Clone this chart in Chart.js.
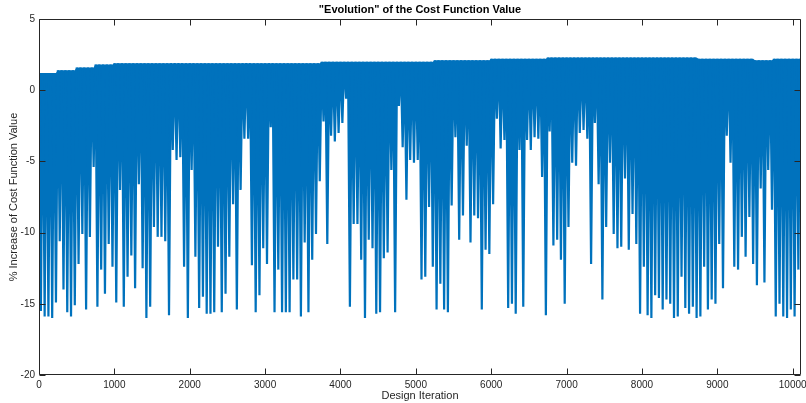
<!DOCTYPE html>
<html>
<head>
<meta charset="utf-8">
<script src="https://cdn.jsdelivr.net/npm/chart.js@4.4.1/dist/chart.umd.min.js"></script>
<style>
  html, body { margin: 0; padding: 0; background: #fff; }
</style>
</head>
<body>
<canvas id="chart" width="806" height="403"></canvas>
<script>
// one bin = 50 design iterations; lows = deepest value seen in that bin
const binSize = 50
const lows = [
  -15.5, -15.9, -15.9, -16.0, -14.9, -10.6, -14.0, -15.6, -15.9, -15.1,
  -12.2, -10.1, -15.4, -10.3, -5.4, -15.2, -12.6, -14.3, -10.8, -12.4,
  -14.9, -7.0, -15.2, -13.1, -11.6, -13.9, -6.6, -12.5, -16.0, -15.2,
  -9.6, -10.3, -10.3, -10.6,
  -15.8, -4.2, -4.9, -4.7, -12.4, -16.0, -5.6, -11.7, -15.3, -14.5,
  -15.7, -15.7, -15.6, -11.0, -15.6, -14.3, -11.7, -8.0, -15.4, -7.0,
  -3.4, -3.4, -12.3, -15.6, -14.4, -11.1, -12.2, -2.6, -15.6, -12.6,
  -15.6, -15.6, -15.6, -13.3,
  -13.3, -15.9, -10.7, -15.6, -11.9, -10.1, -6.4, -2.2, -10.8, -3.2,
  -3.6, -3.0, -2.3, -0.6, -15.2, -9.4, -9.4, -11.9, -16.0, -10.5,
  -11.1, -15.7, -15.6, -11.8, -11.4, -5.6, -15.6, -1.1, -4.0, -7.7,
  -4.9, -5.1, -4.9, -13.3,
  -13.1, -8.2, -12.4, -15.4, -13.6, -15.4, -15.6, -8.1, -3.3, -10.5,
  -8.8, -3.9, -10.7, -8.8, -9.0, -15.4, -11.2, -11.5, -8.0, -2.0,
  -4.1, -3.5, -15.3, -15.0, -15.7, -4.2, -15.2, -3.5, -4.2, -3.3,
  -3.4, -6.1, -15.8, -2.9,
  -10.9, -10.5, -11.9, -15.0, -9.6, -5.1, -5.3, -3.0, -2.8, -3.4,
  -12.2, -2.3, -6.6, -14.7, -9.6, -5.1, -10.1, -11.1, -11.0, -6.2,
  -11.2, -8.7, -10.8, -15.7, -12.4, -15.8, -16.0, -14.4, -14.6, -15.4,
  -14.7, -15.0, -16.0, -15.9,
  -13.1, -15.3, -15.7, -15.2, -16.0, -15.9, -12.4, -15.4, -14.7, -15.0,
  -10.8, -13.9, -3.2, -5.1, -12.4, -12.6, -10.3, -11.7, -8.9, -12.2,
  -13.7, -6.9, -13.5, -5.6, -8.4, -15.9, -15.0, -15.9, -16.0, -15.4,
  -15.9, -12.6, -5.0
]
// upper edge of the trace, one value per 250 iterations
const tops = [
  1.2, 1.4, 1.6, 1.8, 1.9, 1.9, 1.9, 1.9, 1.9, 1.9,
  1.9, 1.9, 1.9, 1.9, 1.9, 2.0, 2.0, 2.0, 2.0, 2.0,
  2.0, 2.1, 2.1, 2.1, 2.2, 2.2, 2.2, 2.3, 2.3, 2.3,
  2.3, 2.3, 2.3, 2.3, 2.3, 2.2, 2.2, 2.2, 2.1, 2.2,
  2.2
]
const xTicks = [0, 1000, 2000, 3000, 4000, 5000, 6000, 7000, 8000, 9000, 10000]
const yTicks = [-20, -15, -10, -5, 0, 5]

let points = []
let upper = []
lows.forEach(function(low, i) {
  let x = i * binSize
  let top = tops[Math.floor(x / 250)]
  points.push({x: x, y: top})
  points.push({x: x + binSize / 2, y: low})
  upper.push({x: x, y: top})
  upper.push({x: x + binSize / 2, y: top})
})

const font = "'Liberation Sans', Arial, Helvetica, sans-serif"
const axisColor = "#262626"
const blue = "#0072BD"
const tickLen = 6

// MATLAB style box with inward ticks on all four sides
let frame = {
  id: "frame",
  afterDatasetsDraw: function(chart) {
    let ctx = chart.ctx
    let a = chart.chartArea
    let sx = chart.scales.x, sy = chart.scales.y
    let L = Math.round(a.left) + 0.5, R = Math.round(a.right) - 0.5
    let T = Math.round(a.top) + 0.5, B = Math.round(a.bottom) - 0.5
    ctx.save()
    ctx.strokeStyle = axisColor
    ctx.lineWidth = 1
    ctx.beginPath()
    ctx.rect(L, T, R - L, B - T)
    xTicks.forEach(function(v) {
      let px = Math.round(sx.getPixelForValue(v)) + 0.5
      ctx.moveTo(px, B); ctx.lineTo(px, B - tickLen)
      ctx.moveTo(px, T); ctx.lineTo(px, T + tickLen)
    })
    yTicks.forEach(function(v) {
      let py = Math.round(sy.getPixelForValue(v)) + 0.5
      ctx.moveTo(L, py); ctx.lineTo(L + tickLen, py)
      ctx.moveTo(R, py); ctx.lineTo(R - tickLen, py)
    })
    ctx.stroke()
    ctx.restore()
  }
}

function fixTicks(list) {
  return function(s) {
    s.ticks = list.map(function(v) { return {value: v} })
  }
}

let chart = new Chart(document.getElementById("chart"), {
  type: "line",
  data: {
    datasets: [{
      data: points,
      borderColor: blue,
      backgroundColor: blue,
      borderWidth: 2.2,
      borderJoinStyle: "miter",
      pointRadius: 0,
      fill: {target: 1},
      tension: 0,
    }, {
      // hidden upper edge, only used as the fill boundary
      data: upper,
      borderWidth: 0,
      borderColor: "rgba(0,0,0,0)",
      pointRadius: 0,
      fill: false,
    }],
  },
  options: {
    responsive: false,
    animation: false,
    events: [],
    layout: {padding: {left: 0, right: 5, top: 0, bottom: 0}},
    plugins: {
      legend: {display: false},
      tooltip: {enabled: false},
      filler: {propagate: false},
      title: {
        display: true,
        fullSize: false,
        text: '"Evolution" of the Cost Function Value',
        color: "#000",
        font: {family: font, size: 11, weight: "bold"},
        padding: {top: 3, bottom: 2.8},
      },
    },
    scales: {
      x: {
        type: "linear",
        min: 0,
        max: 10110,
        grid: {display: false, drawTicks: false},
        border: {display: false},
        afterBuildTicks: fixTicks(xTicks),
        ticks: {
          padding: 4, autoSkip: false, maxRotation: 0,
          color: axisColor, font: {family: font, size: 10},
          callback: function(v) { return String(v) },
        },
        title: {
          display: true, text: "Design Iteration", color: axisColor,
          font: {family: font, size: 11}, padding: {top: 0, bottom: 0},
        },
        afterFit: function(s) {
          s.height = 28
          s.paddingLeft = 0
          s.paddingRight = 0
        },
      },
      y: {
        min: -20,
        max: 5,
        grid: {display: false, drawTicks: false},
        border: {display: false},
        afterBuildTicks: fixTicks(yTicks),
        ticks: {
          padding: 4, color: axisColor, font: {family: font, size: 10},
          callback: function(v) { return String(v) },
        },
        title: {
          display: true, text: "% Increase of Cost Function Value", color: axisColor,
          font: {family: font, size: 11}, padding: {top: 7, bottom: 0},
        },
        afterFit: function(s) {
          s.width = 39
        },
      },
    },
  },
  plugins: [frame],
})
</script>
</body>
</html>
